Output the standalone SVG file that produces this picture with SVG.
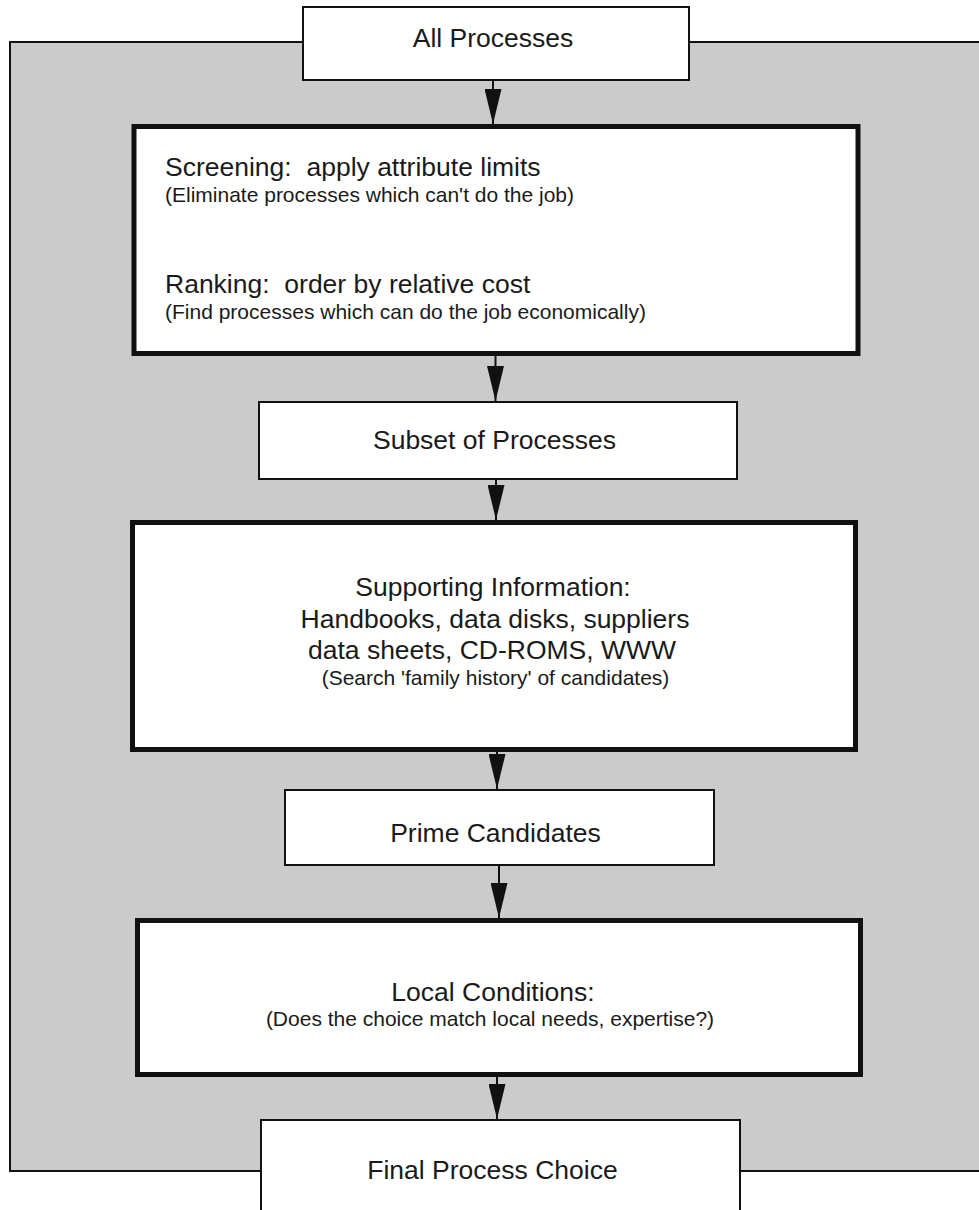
<svg xmlns="http://www.w3.org/2000/svg" width="979" height="1210" viewBox="0 0 979 1210">
  <style>
    .bg { fill: #cbcbcb; stroke: #111; stroke-width: 2; }
    .thin { fill: #fff; stroke: #111; stroke-width: 2; }
    .thick { fill: #fff; stroke: #111; stroke-width: 5; }
    .conn { stroke: #111; stroke-width: 2; fill: none; marker-end: url(#arrow); }
    text { font-family: "Liberation Sans", Arial, Helvetica, sans-serif; fill: #1a1a1a; }
    .big { font-size: 26.5px; }
    .small { font-size: 21px; }
    .c { text-anchor: middle; }
  </style>
  <defs>
    <marker id="arrow" markerUnits="userSpaceOnUse" markerWidth="35" markerHeight="17" viewBox="0 0 35 17" refX="35" refY="8.5" orient="auto">
      <path d="M0,0 L35,8.5 L0,17 Z" fill="#111"/>
    </marker>
  </defs>

  <rect id="frame" class="bg" x="10" y="42" width="1000" height="1129"/>

  <g id="connectors">
    <line class="conn" x1="493" y1="80" x2="493" y2="124"/>
    <line class="conn" x1="495.5" y1="356" x2="495.5" y2="401"/>
    <line class="conn" x1="496" y1="479" x2="496" y2="520"/>
    <line class="conn" x1="497" y1="752" x2="497" y2="789"/>
    <line class="conn" x1="499" y1="866" x2="499" y2="918"/>
    <line class="conn" x1="497" y1="1077" x2="497" y2="1119"/>
  </g>

  <g id="all-processes">
    <rect class="thin" x="303" y="7" width="386" height="73"/>
    <text class="big c" x="493" y="47">All Processes</text>
  </g>

  <g id="screening-ranking">
    <rect class="thick" x="134" y="126.5" width="724" height="227"/>
    <text class="big" x="165" y="176" xml:space="preserve">Screening:  apply attribute limits</text>
    <text class="small" x="165" y="201.5">(Eliminate processes which can't do the job)</text>
    <text class="big" x="165" y="293" xml:space="preserve">Ranking:  order by relative cost</text>
    <text class="small" x="165" y="319">(Find processes which can do the job economically)</text>
  </g>

  <g id="subset">
    <rect class="thin" x="259" y="402" width="478" height="77"/>
    <text class="big c" x="494.5" y="449">Subset of Processes</text>
  </g>

  <g id="supporting-information">
    <rect class="thick" x="132.5" y="522.5" width="723" height="227"/>
    <text class="big c" x="493" y="596">Supporting Information:</text>
    <text class="big c" x="495" y="628">Handbooks, data disks, suppliers</text>
    <text class="big c" x="492" y="659">data sheets, CD-ROMS, WWW</text>
    <text class="small c" x="495.5" y="685">(Search 'family history' of candidates)</text>
  </g>

  <g id="prime-candidates">
    <rect class="thin" x="285" y="790" width="429" height="75"/>
    <text class="big c" x="495.5" y="842">Prime Candidates</text>
  </g>

  <g id="local-conditions">
    <rect class="thick" x="137.5" y="920.5" width="723" height="154"/>
    <text class="big c" x="493" y="1001">Local Conditions:</text>
    <text class="small c" x="490" y="1026">(Does the choice match local needs, expertise?)</text>
  </g>

  <g id="final-choice">
    <rect class="thin" x="261" y="1120" width="479" height="120"/>
    <text class="big c" x="492.5" y="1179">Final Process Choice</text>
  </g>
</svg>
